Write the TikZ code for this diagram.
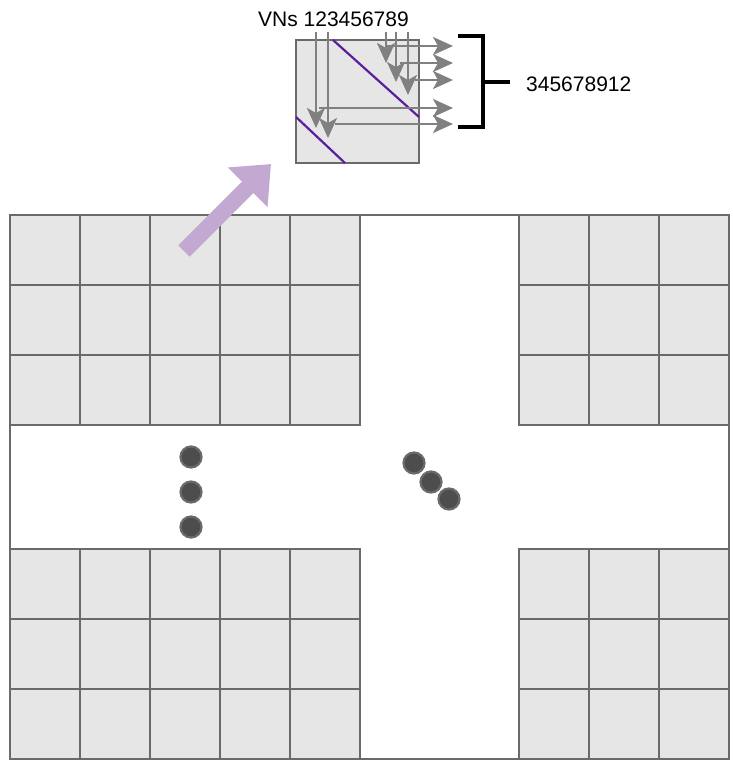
\documentclass[tikz,border=0pt]{standalone}
\usepackage{fontspec}
\setmainfont{Liberation Sans}
\usetikzlibrary{arrows.meta,positioning}
\definecolor{cellgray}{HTML}{E6E6E6}
\definecolor{edgegray}{HTML}{6A6A6A}
\definecolor{arrowgray}{HTML}{808080}
\definecolor{dotgray}{HTML}{4D4D4D}
\definecolor{wrapviolet}{HTML}{5A1E9E}
\definecolor{lilac}{HTML}{C3A9D1}

\begin{document}
\begin{tikzpicture}[x=1pt,y=-1pt,
  every node/.style={font=\fontsize{21}{25}\selectfont,inner sep=0pt},
  cell/.style={draw=edgegray,fill=cellgray,line width=2.2pt,minimum size=70pt,outer sep=0pt},
  vnarrow/.style={arrowgray,line width=2.5pt,arrows={-Stealth[length=20pt,width=18pt,inset=5pt]}},
  dot/.style={circle,fill=dotgray,draw=edgegray,line width=2.2pt,minimum size=21pt}]
  \useasboundingbox (0,0) rectangle (733,763);
  % outer frame and cell blocks
  \draw[edgegray,line width=2.2pt] (10,215) rectangle (729,759);
  \foreach \r/\y in {1/250,2/320,3/390,4/584,5/654,6/724} {
    \foreach \c/\x in {1/45,2/115,3/185,4/255,5/325,6/554,7/624,8/694}
      \node[cell] (cell-\r-\c) at (\x,\y) {};
  }
  % dots
  \foreach \i/\x/\y in {a/191/457,b/191/492,c/191/527,d/414/463,e/431/482,f/449/499}
    \node[dot] (dot-\i) at (\x,\y) {};
  % zoomed cell
  \node[draw=edgegray,fill=cellgray,line width=2.2pt,minimum size=123pt] (zoom) at (357.5,101.5) {};
  \draw[wrapviolet,line width=2.2pt] (333,40) -- (419,117);
  \draw[wrapviolet,line width=2.2pt] (296,117) -- (345,163);
  \coordinate (zfrom) at (184,251);
  \coordinate (zto) at (271,164);
  \draw[lilac,line width=16pt,-{Triangle[length=33pt 0 0,width=54pt 0 0]}] (zfrom) -- (zto);
  % labels
  \node[anchor=base west] (vnlbl) at (258,26) {VNs 123456789};
  \node[anchor=base west] (grouplbl) at (526,91.5) {345678912};
  % VN arrows
  \foreach \i/\x/\e in {1/316/128,2/328/138,3/386/63,4/396/82,5/408/95} {
    \coordinate (vs\i) at (\x,32);
    \coordinate (ve\i) at (\x,\e);
    \draw[vnarrow] (vs\i) -- (ve\i);
  }
  \foreach \i/\x/\y in {1/387/46,2/400/63,3/415/80,4/319/108,5/335/124} {
    \coordinate (hs\i) at (\x,\y);
    \coordinate (he\i) at (453,\y);
    \draw[vnarrow] (hs\i) -- (he\i);
  }
  % bracket
  \coordinate (btop) at (458,36);
  \coordinate (bbot) at (458,127);
  \coordinate (bmid) at (483,82);
  \draw[line width=3.5pt] (btop) -| (bmid) |- (bbot);
  \draw[line width=3.5pt] (bmid) -- ++(27,0);
\end{tikzpicture}
\end{document}
